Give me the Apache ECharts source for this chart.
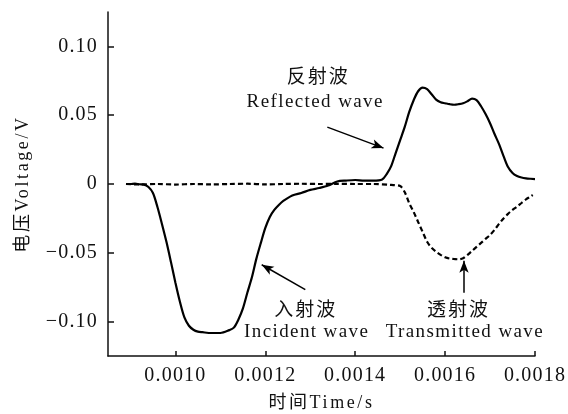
<!DOCTYPE html>
<html><head><meta charset="utf-8">
<script src="https://cdn.jsdelivr.net/npm/echarts@6/dist/echarts.min.js"></script>
<style>html,body{margin:0;padding:0;background:#fff}#c{width:568px;height:414px}</style>
</head><body><div id="c"></div>
<script>
// Incident + reflected wave (solid) : time (s), voltage (V)
const solidTime = [0.00089,0.00090,0.00091,0.00092,0.00093,0.00094,0.00095,0.00096,0.00097,0.00098,0.00099,0.00100,0.00101,0.00102,0.00103,0.00104,0.00105,0.00106,0.00108,0.00110,0.00112,0.00113,0.00114,0.00115,0.00116,0.00117,0.00118,0.00119,0.00120,0.00121,0.00122,0.00123,0.00124,0.00126,0.00128,0.00130,0.00132,0.00134,0.00136,0.00138,0.00140,0.00142,0.00144,0.00146,0.00147,0.00148,0.00149,0.00150,0.00151,0.00152,0.00153,0.00154,0.00155,0.00156,0.00157,0.00158,0.00159,0.00160,0.00161,0.00162,0.00163,0.00164,0.00165,0.00166,0.00167,0.00168,0.00169,0.00170,0.00171,0.00172,0.00173,0.00174,0.00175,0.00176,0.00177,0.00178,0.00179,0.00180];
const solidVolt = [0,0,0.0003,-0.0002,-0.0004,-0.0022,-0.0065,-0.0167,-0.029,-0.042,-0.0566,-0.0718,-0.0856,-0.097,-0.103,-0.1059,-0.1073,-0.1077,-0.1083,-0.1083,-0.1062,-0.1044,-0.0986,-0.0906,-0.079,-0.068,-0.0544,-0.0428,-0.0319,-0.0239,-0.0188,-0.0152,-0.0123,-0.0083,-0.0065,-0.0043,-0.0029,-0.0011,0.0018,0.0025,0.0029,0.0025,0.0025,0.0033,0.0072,0.013,0.0225,0.0319,0.0413,0.0522,0.0609,0.0674,0.070,0.0689,0.0652,0.0613,0.0594,0.0587,0.058,0.0576,0.058,0.0587,0.0602,0.062,0.0609,0.0565,0.0508,0.0442,0.0363,0.029,0.0203,0.0123,0.008,0.0058,0.0047,0.0041,0.0038,0.0036];
// Transmitted wave (dashed)
const dashTime = [0.00089,0.00092,0.00096,0.00100,0.00104,0.00108,0.00112,0.00116,0.00120,0.00124,0.00128,0.00132,0.00136,0.00140,0.00144,0.00148,0.00150,0.00151,0.00152,0.00153,0.00154,0.00155,0.00156,0.00157,0.00158,0.00159,0.00160,0.00161,0.00162,0.00163,0.00164,0.00165,0.00166,0.00167,0.00168,0.00169,0.00170,0.00171,0.00172,0.00173,0.00174,0.00175,0.00176,0.00177,0.00178,0.00179,0.001795];
const dashVolt = [0,-0.0003,0,-0.0004,0,-0.0003,0,0.0002,-0.0003,0,0.0002,0,0.0001,0,0,-0.0007,-0.0015,-0.0058,-0.0138,-0.0203,-0.0276,-0.0348,-0.042,-0.0464,-0.0493,-0.0515,-0.0533,-0.0542,-0.0545,-0.0547,-0.054,-0.0515,-0.0486,-0.0457,-0.0428,-0.0399,-0.037,-0.0333,-0.029,-0.025,-0.0217,-0.0188,-0.0165,-0.0138,-0.0112,-0.0091,-0.008];
const xTicks = [0.0010,0.0012,0.0014,0.0016,0.0018];
const yTicks = [-0.10,-0.05,0,0.05,0.10];
// annotations: [time, voltage] anchors
const labels = [
  {cn:'反射波', en:'Reflected wave', cnAt:[0.001318,0.0783], enAt:[0.001311,0.0594]},
  {cn:'入射波', en:'Incident wave', cnAt:[0.001290,-0.0906], enAt:[0.001292,-0.1073]},
  {cn:'透射波', en:'Transmitted wave', cnAt:[0.001630,-0.0906], enAt:[0.001644,-0.1073]}
];
const arrows = [
  [[0.001338,0.0413],[0.001463,0.0261]],
  [[0.001289,-0.0768],[0.001192,-0.0587]],
  [[0.001642,-0.079],[0.001642,-0.0558]]
];

// wide, letter-spaced serif look of the original typesetting
const origFill = CanvasRenderingContext2D.prototype.fillText;
CanvasRenderingContext2D.prototype.fillText = function(t, x, y, m) {
  const f = this.font || '';
  const s = parseFloat((f.match(/([\d.]+)px/) || [0, 0])[1]);
  let ls = '0px';
  if (/^[^,]*Noto Sans CJK/.test(f)) ls = s >= 19 ? '2px' : '0px';
  else if (s === 20) ls = '1.2px';
  else if (s === 18) ls = '2.6px';
  else if (s === 19) ls = '1.4px';
  const prev = this.letterSpacing;
  this.letterSpacing = ls;
  const r = m === undefined ? origFill.call(this, t, x, y) : origFill.call(this, t, x, y, m);
  this.letterSpacing = prev;
  return r;
};

const SERIF = '"Liberation Serif","Noto Sans CJK SC",serif';
const fmtY = v => v === 0 ? '0' : v.toFixed(2).replace('-', '\u2212');
const zip = (a,b) => a.map((t,i)=>[t,b[i]]);

const chart = echarts.init(document.getElementById('c'), null, {renderer:'canvas'});
chart.setOption({
  animation:false,
  backgroundColor:'#fff',
  grid:{left:108,right:33,top:12,bottom:58,containLabel:false,outerBoundsMode:'none'},
  xAxis:{type:'value',min:0.00085,max:0.0018,
    name:'时间Time/s',nameLocation:'middle',nameGap:38,
    nameTextStyle:{fontFamily:SERIF,fontSize:18,color:'#111'},
    axisLine:{onZero:false,lineStyle:{color:'#111',width:1.5}},
    axisTick:{inside:true,length:5,lineStyle:{color:'#111',width:1.5},customValues:xTicks},
    axisLabel:{customValues:xTicks,fontFamily:SERIF,fontSize:20,color:'#111',margin:10,formatter:v=>v.toFixed(4)},
    splitLine:{show:false}},
  yAxis:{type:'value',min:-0.125,max:0.125,
    name:'电压Voltage/V',nameLocation:'middle',nameRotate:90,nameGap:76,
    nameTextStyle:{fontFamily:SERIF,fontSize:18,color:'#111'},
    axisLine:{onZero:false,lineStyle:{color:'#111',width:1.5}},
    axisTick:{inside:true,length:6,lineStyle:{color:'#111',width:1.5},customValues:yTicks},
    axisLabel:{customValues:yTicks,fontFamily:SERIF,fontSize:20,color:'#111',margin:10,formatter:fmtY},
    splitLine:{show:false}},
  series:[
    {type:'line',data:zip(solidTime,solidVolt),showSymbol:false,smooth:0.3,
     lineStyle:{color:'#000',width:2.2}},
    {type:'line',data:zip(dashTime,dashVolt),showSymbol:false,smooth:0.3,
     lineStyle:{color:'#000',width:2.2,type:[5,3]},
     markLine:{silent:true,symbol:['none','arrow'],symbolSize:[7,12],
       lineStyle:{color:'#000',width:1.5,type:'solid'},label:{show:false},
       data:arrows.map(a=>[{coord:a[0]},{coord:a[1]}])}}
  ]
});
const g = [];
labels.forEach(l=>{
  const p1 = chart.convertToPixel({gridIndex:0}, l.cnAt);
  const p2 = chart.convertToPixel({gridIndex:0}, l.enAt);
  g.push({type:'text',x:p1[0],y:p1[1],style:{text:l.cn,font:'19px "Noto Sans CJK SC"',fill:'#111',align:'center',verticalAlign:'middle'}});
  g.push({type:'text',x:p2[0],y:p2[1],style:{text:l.en,font:'19px "Liberation Serif"',fill:'#111',align:'center',verticalAlign:'middle'}});
});
chart.setOption({graphic:g});
</script></body></html>
